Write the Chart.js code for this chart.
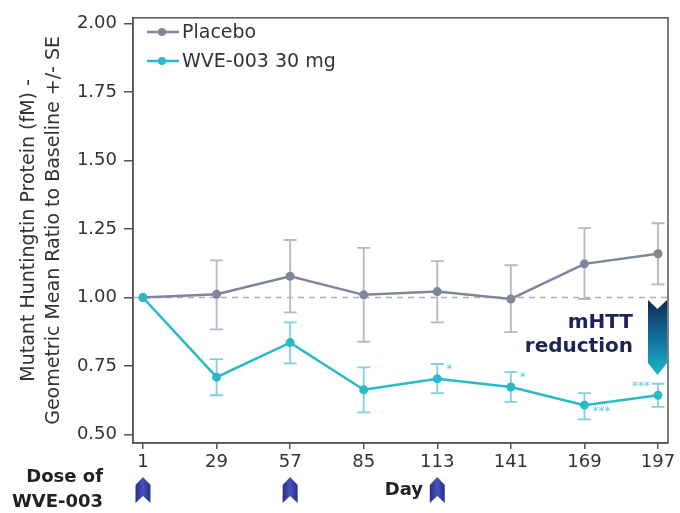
<!DOCTYPE html>
<html>
<head>
<meta charset="utf-8">
<script src="https://cdn.jsdelivr.net/npm/chart.js"></script>
<style>
  body { margin: 0; background: #fff; }
  #wrap { width: 680px; height: 513px; position: relative; }
</style>
</head>
<body>
<div id="wrap"><canvas id="chart" width="680" height="513"></canvas></div>
<script>
// Study days on the x axis
const days = [1, 29, 57, 85, 113, 141, 169, 197];
const doseDays = [1, 57, 113];

// Placebo geometric mean ratio and SE limits
const placebo = [1.0, 1.012, 1.078, 1.01, 1.022, 0.995, 1.123, 1.16];
const placeboHi = [1.0, 1.136, 1.21, 1.181, 1.133, 1.118, 1.253, 1.271];
const placeboLo = [1.0, 0.884, 0.946, 0.839, 0.91, 0.874, 0.995, 1.048];

// WVE-003 30 mg
const wve = [1.0, 0.71, 0.836, 0.664, 0.704, 0.674, 0.608, 0.644];
const wveHi = [1.0, 0.776, 0.91, 0.746, 0.758, 0.728, 0.652, 0.686];
const wveLo = [1.0, 0.644, 0.76, 0.582, 0.652, 0.62, 0.556, 0.602];

// significance marks next to WVE-003 points
const sigDays = [113, 141, 169, 197];
const sigLabels = ["*", "*", "***", "***"];

const yTicks = [0.5, 0.75, 1.0, 1.25, 1.5, 1.75, 2.0];

const FONT = "'DejaVu Sans', Verdana, sans-serif";
const PLACEBO_LINE = "#80869a";
const PLACEBO_ERR = "#b5b8c5";
const WVE_LINE = "#2bb9c8";
const WVE_ERR = "#7fd2db";
const AXIS = "#555";

// draws error bars, baseline and the annotations around the plot
const extrasPlugin = {
  id: "extras",
  beforeDatasetsDraw(chart) {
    const ctx = chart.ctx;
    const xs = chart.scales.x;
    const ys = chart.scales.y;
    const area = chart.chartArea;

    // dashed reference line at 1.00
    ctx.save();
    ctx.strokeStyle = "#b0b0b0";
    ctx.lineWidth = 1.5;
    ctx.setLineDash([6, 5]);
    ctx.beginPath();
    ctx.moveTo(area.left, ys.getPixelForValue(1));
    ctx.lineTo(area.right, ys.getPixelForValue(1));
    ctx.stroke();
    ctx.restore();

    // error bars
    const drawErr = (hi, lo, color) => {
      ctx.save();
      ctx.strokeStyle = color;
      ctx.lineWidth = 1.8;
      days.forEach((d, i) => {
        if (hi[i] === lo[i]) return;
        const x = xs.getPixelForValue(d);
        const yh = ys.getPixelForValue(hi[i]);
        const yl = ys.getPixelForValue(lo[i]);
        ctx.beginPath();
        ctx.moveTo(x, yh);
        ctx.lineTo(x, yl);
        ctx.moveTo(x - 6.5, yh);
        ctx.lineTo(x + 6.5, yh);
        ctx.moveTo(x - 6.5, yl);
        ctx.lineTo(x + 6.5, yl);
        ctx.stroke();
      });
      ctx.restore();
    };
    drawErr(placeboHi, placeboLo, PLACEBO_ERR);
    drawErr(wveHi, wveLo, WVE_ERR);
  },
  afterDraw(chart) {
    const ctx = chart.ctx;
    const xs = chart.scales.x;
    const ys = chart.scales.y;
    const area = chart.chartArea;

    // plot frame
    ctx.save();
    ctx.strokeStyle = AXIS;
    ctx.lineWidth = 1.5;
    ctx.strokeRect(area.left, area.top, area.right - area.left, area.bottom - area.top);
    ctx.restore();

    // legend
    const legend = [
      ["Placebo", PLACEBO_LINE],
      ["WVE-003 30 mg", WVE_LINE],
    ];
    ctx.save();
    ctx.font = "19px " + FONT;
    ctx.textBaseline = "middle";
    legend.forEach((item, i) => {
      const y = 32 + i * 29;
      ctx.strokeStyle = item[1];
      ctx.lineWidth = 2.5;
      ctx.beginPath();
      ctx.moveTo(147, y);
      ctx.lineTo(179, y);
      ctx.stroke();
      ctx.fillStyle = item[1];
      ctx.beginPath();
      ctx.arc(162, y, 4, 0, Math.PI * 2);
      ctx.fill();
      ctx.fillStyle = "#333";
      ctx.fillText(item[0], 182, y + 1);
    });
    ctx.restore();

    // significance marks
    ctx.save();
    ctx.fillStyle = "#5ccbd8";
    ctx.font = "12px " + FONT;
    ctx.textBaseline = "middle";
    sigDays.forEach((d, i) => {
      const idx = days.indexOf(d);
      const x = xs.getPixelForValue(d);
      let px, py;
      if (i < 2) { px = x + 9; py = ys.getPixelForValue(wveHi[idx]) + 6; ctx.textAlign = "left"; }
      else if (i === 2) { px = x + 8; py = ys.getPixelForValue(wve[idx]) + 7; ctx.textAlign = "left"; }
      else { px = x - 8; py = ys.getPixelForValue(wveHi[idx]) + 3; ctx.textAlign = "right"; }
      ctx.fillText(sigLabels[i], px, py);
    });
    ctx.restore();

    // mHTT reduction label and gradient arrow
    ctx.save();
    ctx.fillStyle = "#1c2357";
    ctx.font = "bold 20px " + FONT;
    ctx.textAlign = "right";
    ctx.textBaseline = "alphabetic";
    ctx.fillText("mHTT", 633, 328);
    ctx.fillText("reduction", 633, 352);
    const ax = 657.5, top = 300, bot = 375, hw = 9.5;
    const grad = ctx.createLinearGradient(0, top, 0, bot);
    grad.addColorStop(0, "#0c2a5a");
    grad.addColorStop(0.5, "#126f99");
    grad.addColorStop(1, "#1ab8cd");
    ctx.fillStyle = grad;
    ctx.beginPath();
    ctx.moveTo(ax - hw, top);
    ctx.lineTo(ax, top + 9);
    ctx.lineTo(ax + hw, top);
    ctx.lineTo(ax + hw, bot - 12);
    ctx.lineTo(ax, bot);
    ctx.lineTo(ax - hw, bot - 12);
    ctx.closePath();
    ctx.fill();
    ctx.restore();

    // dosing annotations below the x axis
    ctx.save();
    ctx.fillStyle = "#222";
    ctx.font = "bold 18px " + FONT;
    ctx.textAlign = "right";
    ctx.textBaseline = "middle";
    ctx.fillText("Dose of", 103, 477);
    ctx.fillText("WVE-003", 103, 502);
    ctx.fillText("Day", 423, 490);
    doseDays.forEach((d) => {
      const cx = xs.getPixelForValue(d);
      const t = 477, b = 503, w = 7.5;
      const g = ctx.createLinearGradient(cx - w, 0, cx + w, 0);
      g.addColorStop(0, "#2a2f8c");
      g.addColorStop(0.5, "#4852b8");
      g.addColorStop(1, "#2a2f8c");
      ctx.fillStyle = g;
      ctx.beginPath();
      ctx.moveTo(cx, t);
      ctx.lineTo(cx + w, t + 8);
      ctx.lineTo(cx + w, b);
      ctx.lineTo(cx, b - 7);
      ctx.lineTo(cx - w, b);
      ctx.lineTo(cx - w, t + 8);
      ctx.closePath();
      ctx.fill();
    });
    ctx.restore();
  },
};

const ctx = document.getElementById("chart").getContext("2d");
new Chart(ctx, {
  type: "line",
  data: {
    labels: days,
    datasets: [
      {
        label: "Placebo",
        data: days.map((d, i) => ({ x: d, y: placebo[i] })),
        borderColor: PLACEBO_LINE,
        backgroundColor: PLACEBO_LINE,
        borderWidth: 2.5,
        pointRadius: 4.5,
        pointBorderWidth: 0,
        tension: 0,
        order: 1,
      },
      {
        label: "WVE-003 30 mg",
        data: days.map((d, i) => ({ x: d, y: wve[i] })),
        borderColor: WVE_LINE,
        backgroundColor: WVE_LINE,
        borderWidth: 2.5,
        pointRadius: 4.5,
        pointBorderWidth: 0,
        tension: 0,
        order: 0,
      },
    ],
  },
  options: {
    responsive: false,
    animation: false,
    layout: { padding: { left: 0, right: 12, top: 12, bottom: 0 } },
    plugins: {
      legend: { display: false },
      tooltip: { enabled: false },
    },
    scales: {
      x: {
        type: "linear",
        min: -2.8,
        max: 200.8,
        afterBuildTicks: (scale) => {
          scale.ticks = days.map((d) => ({ value: d }));
        },
        afterFit: (scale) => {
          scale.height = 70;
        },
        grid: {
          drawOnChartArea: false,
          drawTicks: true,
          tickLength: 6,
          color: AXIS,
          lineWidth: 1.5,
        },
        border: { color: AXIS, width: 1.5 },
        ticks: {
          autoSkip: false,
          maxRotation: 0,
          padding: 3,
          color: "#333",
          font: { family: FONT, size: 18 },
        },
      },
      y: {
        min: 0.47,
        max: 2.02,
        afterBuildTicks: (scale) => {
          scale.ticks = yTicks.map((v) => ({ value: v }));
        },
        afterFit: (scale) => {
          scale.width = 133;
        },
        grid: {
          drawOnChartArea: false,
          drawTicks: true,
          tickLength: 9,
          color: AXIS,
          lineWidth: 1.5,
        },
        border: { color: AXIS, width: 1.5 },
        ticks: {
          padding: 7,
          color: "#333",
          font: { family: FONT, size: 18 },
          callback: (v) => Number(v).toFixed(2),
        },
        title: {
          display: true,
          text: ["Mutant Huntingtin Protein (fM) -", "Geometric Mean Ratio to Baseline +/- SE"],
          color: "#333",
          font: { family: FONT, size: 19, lineHeight: 1.29 },
          padding: { top: 17, bottom: 0 },
        },
      },
    },
  },
  plugins: [extrasPlugin],
});
</script>
</body>
</html>
